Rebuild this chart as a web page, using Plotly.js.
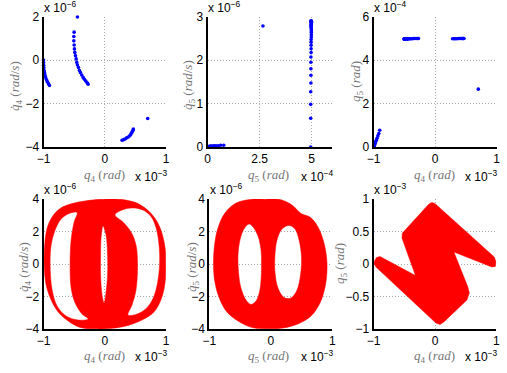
<!DOCTYPE html>
<html><head><meta charset="utf-8">
<script src="https://cdn.plot.ly/plotly-3.0.1.min.js"></script>
<style>html,body{margin:0;padding:0;background:#fff}#chart{width:507px;height:373px}</style>
</head><body><div id="chart"></div>
<script>
// ---- Sampled states (top row, blue dots) ----
// q4 in 1e-3 rad, q4dot in 1e-6 rad/s, q5 in 1e-4 rad, q5dot in 1e-6 rad/s
const q4 = [-1.000,-0.999,-0.997,-0.994,-0.990,-0.984,-0.977,-0.968,-0.958,-0.946,-0.932,-0.917,-0.902,
  -0.446,-0.500,-0.505,-0.505,-0.500,-0.495,-0.489,-0.478,-0.467,-0.457,-0.446,-0.429,-0.413,-0.397,-0.375,-0.353,-0.332,-0.310,-0.288,-0.272,
  0.283,0.310,0.332,0.359,0.386,0.408,0.424,0.440,0.451,0.462,0.467,
  0.701];
const q4d = [0.00,-0.12,-0.24,-0.36,-0.48,-0.58,-0.68,-0.77,-0.86,-0.94,-1.02,-1.10,-1.17,
  1.98,1.28,1.08,0.88,0.69,0.51,0.35,0.20,0.05,-0.11,-0.23,-0.35,-0.48,-0.58,-0.69,-0.80,-0.89,-0.97,-1.05,-1.11,
  -3.69,-3.66,-3.63,-3.58,-3.54,-3.48,-3.42,-3.35,-3.29,-3.23,-3.17,
  -2.69];
const q5 = [0.00,0.01,0.02,0.05,0.08,0.12,0.17,0.24,0.31,0.40,0.51,0.62,0.77,
  4.97,4.96,4.96,4.96,4.96,4.97,4.97,4.97,4.97,4.97,4.98,4.98,4.98,4.98,4.98,4.99,4.99,4.99,4.99,4.99,
  4.98,4.98,4.98,4.98,4.99,4.99,4.99,4.99,4.99,4.99,4.99,
  2.66];
const q5d = [0.00,0.00,0.01,0.01,0.01,0.02,0.02,0.02,0.03,0.03,0.03,0.04,0.04,
  2.90,0.00,0.66,0.98,1.27,1.47,1.65,1.80,1.95,2.07,2.17,2.26,2.34,2.41,2.47,2.53,2.58,2.63,2.67,2.71,
  2.74,2.77,2.79,2.81,2.83,2.85,2.86,2.87,2.88,2.89,2.895,
  2.78];

// ---- Continuous trajectories (bottom row, red bands): outlines ----
// bottom-left: q4 (1e-3) vs q4dot (1e-6)
const bl_outer_x = [-0.989,-0.981,-0.940,-0.859,-0.729,-0.533,-0.321,-0.077,0.249,0.543,0.771,0.901,0.983,0.995,0.983,0.918,0.804,0.624,0.380,0.119,-0.158,-0.403,-0.598,-0.761,-0.875,-0.957,-0.989];
const bl_outer_y = [-0.06,1.17,2.22,2.90,3.42,3.72,3.88,3.98,3.98,3.72,3.05,2.25,1.05,0.00,-1.20,-2.20,-2.95,-3.42,-3.78,-3.96,-3.99,-3.90,-3.50,-2.95,-2.22,-1.29,-0.06];
const bl_holeL_x = [-0.892,-0.859,-0.778,-0.631,-0.435,-0.272,-0.370,-0.484,-0.549,-0.566,-0.549,-0.500,-0.452,-0.582,-0.712,-0.810,-0.875,-0.892];
const bl_holeL_y = [-0.06,-1.60,-2.58,-3.20,-3.45,-3.38,-3.08,-2.40,-1.48,-0.06,1.48,2.58,3.17,3.11,2.77,2.09,1.17,-0.06];
const bl_holeC_x = [-0.028,-0.060,-0.068,-0.068,-0.044,-0.011,0.021,0.046,0.046,0.021,-0.028];
const bl_holeC_y = [2.34,1.60,0.55,-0.68,-1.91,-2.40,-1.72,-0.68,0.55,1.78,2.34];
const bl_holeR_x = [0.168,0.298,0.429,0.510,0.535,0.510,0.445,0.380,0.510,0.673,0.790,0.860,0.895,0.888,0.840,0.760,0.624,0.445,0.282,0.168];
const bl_holeR_y = [3.02,2.58,1.97,1.17,-0.06,-1.60,-2.52,-3.14,-3.10,-2.75,-2.10,-1.20,-0.06,1.10,2.20,2.90,3.32,3.45,3.32,3.02];

// bottom-middle: q5 (1e-3) vs q5dot (1e-6)
const bm_outer_x = [-0.932,-0.915,-0.859,-0.745,-0.566,-0.338,-0.094,0.150,0.345,0.491,0.637,0.767,0.865,0.914,0.889,0.800,0.654,0.442,0.198,-0.046,-0.306,-0.533,-0.728,-0.850,-0.915,-0.932];
const bm_outer_y = [0.00,1.17,2.22,3.14,3.75,3.97,3.99,3.97,3.63,3.11,2.89,2.28,1.29,0.06,-1.29,-2.40,-3.20,-3.69,-3.94,-3.99,-3.91,-3.51,-2.89,-1.97,-0.98,0.00];
const bm_holeL_x = [-0.533,-0.525,-0.485,-0.403,-0.322,-0.241,-0.184,-0.159,-0.151,-0.159,-0.208,-0.289,-0.354,-0.436,-0.501,-0.533];
const bm_holeL_y = [0.55,-0.49,-1.48,-2.22,-2.49,-2.28,-1.72,-0.98,-0.06,0.86,1.72,2.28,2.46,2.15,1.48,0.55];
const bm_holeR_x = [0.068,0.068,0.117,0.215,0.328,0.426,0.483,0.499,0.459,0.393,0.296,0.182,0.101,0.068];
const bm_holeR_y = [0.55,-0.49,-1.48,-2.06,-2.09,-1.60,-0.68,0.43,1.48,2.15,2.37,2.15,1.48,0.55];

// bottom-right: q4 (1e-3) vs q5 (1e-3)
const br_x = [-0.987,-0.954,-0.897,-0.319,-0.539,-0.531,-0.099,-0.050,-0.002,0.967,0.995,0.984,0.927,0.308,0.536,0.560,0.520,0.145,0.080,0.015,-0.963,-0.995,-0.987];
const br_y = [0.046,0.100,0.115,-0.177,0.400,0.477,0.923,0.946,0.931,0.108,0.031,-0.038,-0.046,0.185,-0.354,-0.446,-0.554,-0.892,-0.931,-0.908,-0.046,0.008,0.046];

// ---- tick values ----
const ticksQ4 = [-1, 0, 1];
const ticksTLy = [-4, -2, 0, 2];
const ticksTMx = [0, 2.5, 5];
const ticksTMy = [0, 1, 2, 3];
const ticksTRy = [0, 2, 4, 6];
const ticksRate = [-4, -2, 0, 2, 4];
const ticksBRy = [-1, -0.5, 0, 0.5, 1];

function joinRings(rings) {
  const x = [], y = [];
  rings.forEach((r, i) => { if (i) { x.push(null); y.push(null); } x.push(...r[0]); y.push(...r[1]); });
  return {x, y};
}

const RED = '#ff0000', BLUE = '#0000ff';
const dot = (x, y, xa, ya) => ({type:'scatter', mode:'markers', x, y, xaxis:xa, yaxis:ya,
  marker:{color:BLUE, size:3.6, line:{width:0}}, cliponaxis:false, hoverinfo:'skip'});
const band = (d, xa, ya, shape) => ({type:'scatter', mode:'lines', x:d.x, y:d.y, xaxis:xa, yaxis:ya,
  fill:'toself', fillcolor:RED, line:{color:RED, width:0.5, shape:shape, smoothing:1}, hoverinfo:'skip'});

const traces = [
  dot(q4, q4d, 'x', 'y'),
  dot(q5, q5d, 'x2', 'y2'),
  dot(q4, q5, 'x3', 'y3'),
  band(joinRings([[bl_outer_x, bl_outer_y],[bl_holeL_x, bl_holeL_y],[bl_holeC_x, bl_holeC_y],[bl_holeR_x, bl_holeR_y]]), 'x4', 'y4', 'spline'),
  band(joinRings([[bm_outer_x, bm_outer_y],[bm_holeL_x, bm_holeL_y],[bm_holeR_x, bm_holeR_y]]), 'x5', 'y5', 'spline'),
  band({x:br_x, y:br_y}, 'x6', 'y6', 'linear')
];

const PW = 507, PH = 373;
const px = v => v / PW, py = v => 1 - v / PH;
const base = {showline:true, linecolor:'#000', linewidth:2, mirror:false, showgrid:true,
  gridcolor:'#a8a8a8', griddash:'1px,2px', gridwidth:1, zeroline:false, ticks:'',
  tickfont:{family:'"Liberation Sans", Arial, sans-serif', size:12, color:'#000'},
  fixedrange:true, automargin:false};
const ax = (dom, range, tickvals, anchor) => Object.assign({}, base, {domain:dom, range, tickvals, anchor});

const colTL = [px(43.5), px(166)], colTM = [px(207.7), px(332.3)], colTR = [px(373.7), px(496.7)];
const colBL = [px(43.5), px(166)], colBM = [px(209.3), px(332.3)], colBR = [px(373.7), px(496.3)];
const rowT = [py(147), py(16.5)], rowB = [py(329), py(199)];

const tickF = {family:'"Liberation Sans", Arial, sans-serif', size:12, color:'#000'};
const labF = {family:'"Liberation Serif", "DejaVu Serif", serif', size:13, color:'#777'};
const anns = [];
function expo(x, y, text, xanchor, yanchor) {
  anns.push({xref:'paper', yref:'paper', x:px(x), y:py(y), text, xanchor, yanchor, showarrow:false, font:tickF, borderpad:0});
}
function lab(x, y, text, angle) {
  anns.push({xref:'paper', yref:'paper', x:px(x), y:py(y), text, xanchor:'center', yanchor:'middle', showarrow:false, font:labF, textangle:angle||0, borderpad:0});
}
const q4lab = '<i>q</i><sub>4</sub> (<i>rad</i>)';
const q5lab = '<i>q</i><sub>5</sub> (<i>rad</i>)';
const q4dlab = '<i>q̇</i><sub>4</sub> (<i>rad</i>/<i>s</i>)';
const q5dlab = '<i>q̇</i><sub>5</sub> (<i>rad</i>/<i>s</i>)';

// exponent labels
expo(43, 16, 'x 10<sup>−6</sup>', 'left', 'bottom');
expo(169, 167, 'x 10<sup>−3</sup>', 'right', 'top');
expo(207, 16, 'x 10<sup>−6</sup>', 'left', 'bottom');
expo(335, 167, 'x 10<sup>−4</sup>', 'right', 'top');
expo(373, 16, 'x 10<sup>−4</sup>', 'left', 'bottom');
expo(499, 167, 'x 10<sup>−3</sup>', 'right', 'top');
expo(43, 198, 'x 10<sup>−6</sup>', 'left', 'bottom');
expo(169, 347, 'x 10<sup>−3</sup>', 'right', 'top');
expo(209, 198, 'x 10<sup>−6</sup>', 'left', 'bottom');
expo(335, 347, 'x 10<sup>−3</sup>', 'right', 'top');
expo(373, 198, 'x 10<sup>−3</sup>', 'left', 'bottom');
expo(499, 347, 'x 10<sup>−3</sup>', 'right', 'top');
// axis titles
lab(104, 175.5, q4lab); lab(268.5, 175.5, q5lab); lab(434.5, 175.5, q4lab);
lab(104, 356, q4lab); lab(268.5, 356, q5lab); lab(434.5, 356, q4lab);
lab(16, 86, q4dlab, -90); lab(188, 85, q5dlab, -90); lab(356, 82, q5lab, -90);
lab(24, 267, q4dlab, -90); lab(192, 267, q5dlab, -90); lab(340, 264, q5lab, -90);

const layout = {
  width:PW, height:PH, margin:{l:0, r:0, t:0, b:0}, paper_bgcolor:'#fff', plot_bgcolor:'#fff',
  showlegend:false,
  xaxis: ax(colTL, [-1, 1], ticksQ4, 'y'),
  yaxis: ax(rowT, [-4, 2], ticksTLy, 'x'),
  xaxis2: ax(colTM, [0, 6], ticksTMx, 'y2'),
  yaxis2: ax(rowT, [0, 3], ticksTMy, 'x2'),
  xaxis3: ax(colTR, [-1, 1], ticksQ4, 'y3'),
  yaxis3: ax(rowT, [0, 6], ticksTRy, 'x3'),
  xaxis4: ax(colBL, [-1, 1], ticksQ4, 'y4'),
  yaxis4: ax(rowB, [-4, 4], ticksRate, 'x4'),
  xaxis5: ax(colBM, [-1, 1], ticksQ4, 'y5'),
  yaxis5: ax(rowB, [-4, 4], ticksRate, 'x5'),
  xaxis6: ax(colBR, [-1, 1], ticksQ4, 'y6'),
  yaxis6: ax(rowB, [-1, 1], ticksBRy, 'x6'),
  annotations: anns
};

Plotly.newPlot('chart', traces, layout, {staticPlot:true, displayModeBar:false});
</script>
</body></html>
